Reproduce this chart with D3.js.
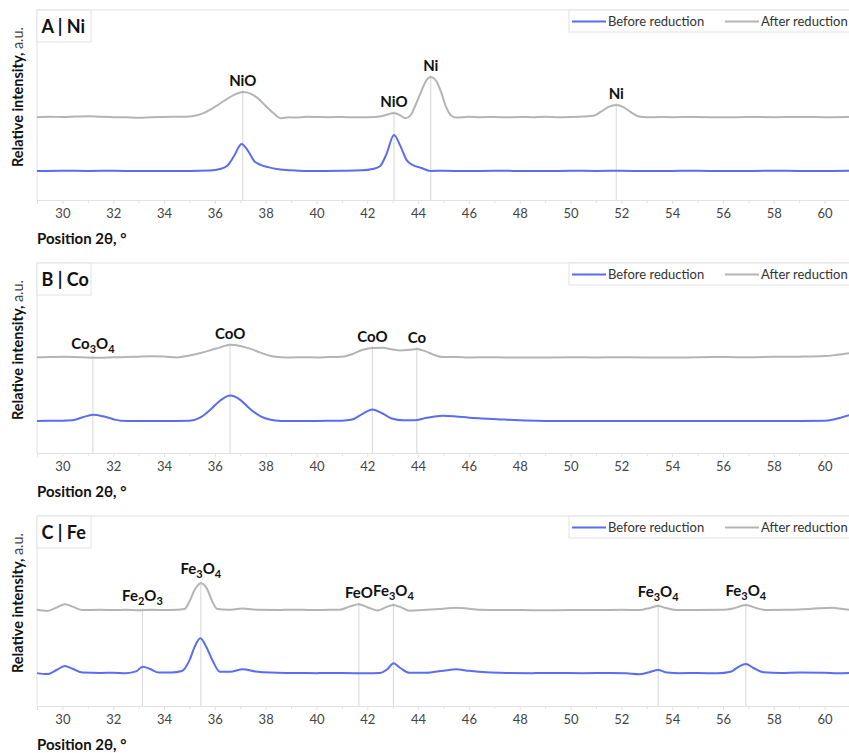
<!DOCTYPE html>
<html>
<head>
<meta charset="utf-8">
<script src="https://cdn.jsdelivr.net/npm/d3@7/dist/d3.min.js"></script>
<style>
  html, body { margin: 0; padding: 0; background: #fff; }
  svg { display: block; font-family: Lato, "Open Sans", sans-serif; }
</style>
</head>
<body>
<svg id="chart" width="849" height="753"></svg>
<script>
// ---------- DATA ----------
const panelTitles = ["A | Ni", "B | Co", "C | Fe"];
const seriesNames = ["Before reduction", "After reduction"];
const xTicks = [30, 32, 34, 36, 38, 40, 42, 44, 46, 48, 50, 52, 54, 56, 58, 60];
const xDomain = [29, 61];

// [2θ, relative intensity]
const niBefore = [[29,15.2],[30,15.4],[31,15.3],[32,15.4],[33,15.2],[34,15.3],[35,15.3],[35.8,15.5],[36.2,16.3],[36.5,18.2],[36.75,23.0],[37.05,29.5],[37.3,26.0],[37.55,20.5],[37.8,18.5],[38.1,17.3],[38.5,16.2],[39,15.6],[39.5,15.3],[40,15.3],[41,15.4],[41.8,15.6],[42.2,16.3],[42.5,17.8],[42.75,24.0],[43.05,34.2],[43.3,28.5],[43.55,21.0],[43.8,18.3],[44.1,17.0],[44.5,15.3],[45,15.4],[46,15.2],[47,15.4],[48,15.3],[49,15.2],[50,15.4],[51,15.3],[52,15.4],[53,15.2],[54,15.3],[55,15.4],[56,15.2],[57,15.3],[58,15.4],[59,15.3],[60,15.3],[61,15.4]];
const niAfter = [[29,43.6],[29.5,43.8],[30,43.7],[30.5,43.9],[31,44.1],[31.5,43.8],[32,43.6],[32.5,43.5],[33,43.3],[33.5,43.6],[34,43.7],[34.5,43.8],[35,44.0],[35.3,44.6],[35.6,46.0],[36,49.0],[36.4,52.5],[36.8,55.6],[37.1,56.8],[37.4,56.0],[37.7,53.5],[38,49.5],[38.3,45.8],[38.6,43.0],[38.9,43.5],[39.2,43.4],[39.6,43.8],[40,43.7],[40.5,43.6],[41,43.7],[41.5,43.5],[42,43.6],[42.5,44.0],[42.8,45.0],[43.05,45.8],[43.3,44.5],[43.5,43.0],[43.7,44.5],[43.9,50.0],[44.15,58.0],[44.35,63.5],[44.5,64.7],[44.7,63.0],[44.9,57.0],[45.1,49.0],[45.3,44.5],[45.5,43.4],[46,43.8],[46.5,43.6],[47,43.7],[47.5,43.5],[48,43.7],[48.5,43.6],[49,43.8],[49.5,43.6],[50,43.7],[50.5,43.9],[50.9,44.3],[51.2,46.5],[51.5,49.0],[51.8,50.0],[52.1,48.8],[52.4,46.0],[52.7,43.9],[53,43.5],[53.5,43.7],[54,43.6],[55,43.7],[56,43.5],[57,43.7],[58,43.6],[59,43.7],[60,43.6],[61,43.7]];

const coBefore = [[29,16.9],[29.5,17.0],[30,17.0],[30.4,17.2],[30.8,18.8],[31.2,20.1],[31.6,19.3],[32,17.8],[32.3,17.0],[33,16.8],[34,16.8],[35,17.0],[35.4,18.5],[35.8,22.5],[36.2,27.5],[36.6,30.2],[37,28.0],[37.4,23.0],[37.8,19.3],[38.2,17.5],[38.6,16.9],[39,16.8],[40,16.9],[41,17.0],[41.4,17.6],[41.8,20.5],[42.2,22.9],[42.6,20.8],[43,18.0],[43.4,17.2],[43.86,17.2],[44.3,18.4],[44.97,19.6],[45.5,19.2],[46,18.6],[46.5,18.2],[47.1,17.8],[48,17.2],[49,16.9],[50,16.8],[51,16.9],[52,16.8],[53,16.9],[54,16.8],[55,16.9],[56,16.8],[57,16.9],[58,16.8],[59,16.9],[60,17.0],[60.4,17.8],[61,20.0]];
const coAfter = [[29,50.4],[29.5,50.5],[30,50.6],[30.5,50.5],[31,50.2],[31.5,50.1],[32,50.4],[32.5,50.5],[33,50.7],[33.5,50.9],[34,50.8],[34.5,50.3],[35,51.3],[35.4,52.5],[35.8,54.0],[36.2,55.6],[36.6,57.0],[37,56.3],[37.4,54.8],[37.8,52.8],[38.2,51.0],[38.6,50.4],[39,50.3],[39.5,50.4],[40,50.3],[40.5,50.5],[41,50.6],[41.4,52.0],[41.8,54.2],[42.2,55.3],[42.6,55.4],[43,54.5],[43.3,54.0],[43.7,54.4],[43.95,54.7],[44.3,53.5],[44.6,51.8],[44.96,50.5],[45.5,50.5],[46,50.3],[47,50.4],[48,50.2],[49,50.3],[50,50.4],[51,50.3],[52,50.4],[53,50.3],[54,50.2],[55,50.4],[56,50.5],[57,50.4],[58,50.6],[59,50.7],[60,51.0],[60.5,51.7],[61,52.6]];

const feBefore = [[29,17.3],[29.4,16.8],[29.8,19.2],[30.1,21.1],[30.4,19.6],[30.8,17.6],[31.5,17.4],[32,17.5],[32.5,17.3],[32.9,18.2],[33.16,20.7],[33.45,19.5],[33.8,17.6],[34.3,17.6],[34.7,18.4],[35,24.0],[35.2,31.0],[35.43,35.6],[35.65,31.5],[35.9,24.2],[36.2,18.0],[36.6,18.0],[37.1,19.3],[37.6,18.2],[38.2,17.6],[39,17.4],[40,17.3],[41,17.4],[42,17.2],[42.5,17.4],[42.8,19.5],[43.03,22.5],[43.3,20.0],[43.66,17.5],[44.3,17.5],[45,18.6],[45.5,19.3],[46,18.5],[46.7,17.7],[47.5,17.4],[48.5,17.3],[49.5,17.4],[50.5,17.3],[51.5,17.4],[52.2,17.2],[52.7,16.7],[53.1,17.8],[53.45,18.9],[53.8,17.6],[54.3,17.3],[55,17.4],[55.8,17.2],[56.3,18.0],[56.6,20.5],[56.9,22.1],[57.2,20.0],[57.6,17.7],[58.3,17.4],[59,17.6],[60,17.5],[60.5,17.3],[61,17.4]];
const feAfter = [[29,50.6],[29.4,50.0],[29.8,52.0],[30.1,53.6],[30.4,52.3],[30.8,50.5],[31.5,50.6],[32,50.5],[32.5,50.6],[33,50.4],[33.5,50.6],[34,50.5],[34.5,50.6],[34.8,51.0],[35,55.0],[35.2,61.0],[35.45,64.6],[35.7,61.5],[35.9,55.0],[36.1,51.0],[36.5,50.6],[37.1,51.3],[37.7,50.6],[38.5,50.5],[39,50.7],[39.5,50.6],[40,50.5],[40.5,50.6],[40.9,50.6],[41.3,52.3],[41.67,53.6],[42,52.0],[42.4,50.3],[42.7,51.8],[43.03,53.2],[43.35,51.8],[43.66,50.1],[44.2,50.5],[45,51.2],[45.5,51.7],[46,51.2],[46.5,50.6],[47,50.5],[48,50.5],[49,50.4],[50,50.5],[51,50.5],[52,50.6],[52.7,50.5],[53.1,51.5],[53.45,52.6],[53.8,51.4],[54.2,50.5],[55,50.5],[56,50.6],[56.4,51.3],[56.9,53.2],[57.3,51.6],[57.7,50.5],[58.5,50.6],[59.5,51.2],[60.3,51.7],[60.7,51.0],[61,50.6]];

// phase reference lines: [label, 2θ]
const niPhases = [["NiO", 37.1], ["NiO", 43.05], ["Ni", 44.5], ["Ni", 51.8]];
const coPhases = [["Co3O4", 31.2], ["CoO", 36.6], ["CoO", 42.2], ["Co", 43.95]];
const fePhases = [["Fe2O3", 33.15], ["Fe3O4", 35.45], ["FeO", 41.67], ["Fe3O4", 43.03], ["Fe3O4", 53.45], ["Fe3O4", 56.9]];

const panelsData = [
  { before: niBefore, after: niAfter, phases: niPhases },
  { before: coBefore, after: coAfter, phases: coPhases },
  { before: feBefore, after: feAfter, phases: fePhases }
];

// ---------- STYLE / LAYOUT ----------
const blue = "#5a6df0", gray = "#b4b4b4", frame = "#e2e2e2", refLine = "#d6d6d6";
const left = 37, plotRight = 850, panelH = 190, panelStep = 253, firstTop = 10;

const svg = d3.select("#chart");
svg.append("rect").attr("width", 849).attr("height", 753).attr("fill", "#fff");

const x = d3.scaleLinear().domain(xDomain).range([left, plotRight]);

function addLabel(sel, str) {
  const parts = str.match(/(\d+|\D+)/g);
  let sub = false;
  parts.forEach(p => {
    const isDigit = /^\d+$/.test(p);
    const t = sel.append("tspan").text(p);
    if (isDigit && !sub) { t.attr("dy", 4).attr("font-size", 11); sub = true; }
    else if (!isDigit && sub) { t.attr("dy", -4); sub = false; }
  });
}

panelsData.forEach((pd, i) => {
  const top = firstTop + i * panelStep;
  const axisY = top + panelH;
  const y = d3.scaleLinear().domain([0, 100]).range([axisY, top]);
  const g = svg.append("g");

  g.append("path")
    .attr("d", `M${left},${axisY}V${top}H${plotRight}`)
    .attr("fill", "none").attr("stroke", frame).attr("stroke-width", 1);

  const axis = g.append("g").attr("transform", `translate(0,${axisY})`)
    .call(d3.axisBottom(x).tickValues(xTicks).tickSize(4).tickPadding(5).tickFormat(d3.format("d")));
  axis.select(".domain").attr("stroke", frame);
  axis.selectAll(".tick line").attr("stroke", frame);
  axis.selectAll(".tick text").attr("fill", "#444").attr("font-size", 13)
    .attr("font-family", "Lato, 'Open Sans', sans-serif");
  const minor = g.append("g").attr("transform", `translate(0,${axisY})`)
    .call(d3.axisBottom(x).tickValues(d3.range(29, 62, 1).filter(v => !xTicks.includes(v))).tickSize(3).tickFormat(""));
  minor.select(".domain").remove();
  minor.selectAll(".tick line").attr("stroke", frame);

  g.append("text").attr("x", left).attr("y", axisY + 44)
    .attr("font-size", 15).attr("font-weight", 700).attr("fill", "#111")
    .text("Position 2θ, °");

  const yt = g.append("text")
    .attr("transform", `translate(23,${top + 87}) rotate(-90)`)
    .attr("text-anchor", "middle").attr("font-size", 14.5).attr("fill", "#111");
  yt.append("tspan").attr("font-weight", 700).text("Relative intensity, ");
  yt.append("tspan").attr("font-weight", 400).attr("fill", "#444").text("a.u.");

  pd.phases.forEach(([lab, th]) => {
    const near = pd.after.filter(p => Math.abs(p[0] - th) <= 0.3);
    const peak = d3.max(near, p => p[1]);
    const py = y(peak);
    const hasSub = /\d/.test(lab);
    g.append("line").attr("x1", x(th)).attr("x2", x(th))
      .attr("y1", py - 2).attr("y2", axisY)
      .attr("stroke", refLine).attr("stroke-width", 1);
    const t = g.append("text").attr("x", x(th)).attr("y", py - 6 - (hasSub ? 3 : 0))
      .attr("text-anchor", "middle").attr("font-size", 15).attr("font-weight", 700).attr("fill", "#111");
    addLabel(t, lab);
  });

  const line = d3.line().x(d => x(d[0])).y(d => y(d[1])).curve(d3.curveMonotoneX);
  g.append("path").datum(pd.after).attr("d", line)
    .attr("fill", "none").attr("stroke", gray).attr("stroke-width", 2);
  g.append("path").datum(pd.before).attr("d", line)
    .attr("fill", "none").attr("stroke", blue).attr("stroke-width", 2);

  g.append("rect").attr("x", left).attr("y", top).attr("width", 54).attr("height", 32)
    .attr("fill", "#fff").attr("stroke", frame);
  g.append("text").attr("x", left + 4.5).attr("y", top + 23)
    .attr("font-size", 18).attr("font-weight", 700).attr("fill", "#111")
    .text(panelTitles[i]);

  const lg = g.append("g");
  lg.append("rect").attr("x", 569).attr("y", top).attr("width", 300).attr("height", 22)
    .attr("fill", "#fff").attr("stroke", frame);
  const items = [[seriesNames[0], blue, 572], [seriesNames[1], gray, 725]];
  items.forEach(([name, col, lx]) => {
    lg.append("line").attr("x1", lx).attr("x2", lx + 34).attr("y1", top + 11.5).attr("y2", top + 11.5)
      .attr("stroke", col).attr("stroke-width", 2);
    lg.append("text").attr("x", lx + 36).attr("y", top + 16)
      .attr("font-size", 13).attr("fill", "#333").text(name);
  });
});
</script>
</body>
</html>
